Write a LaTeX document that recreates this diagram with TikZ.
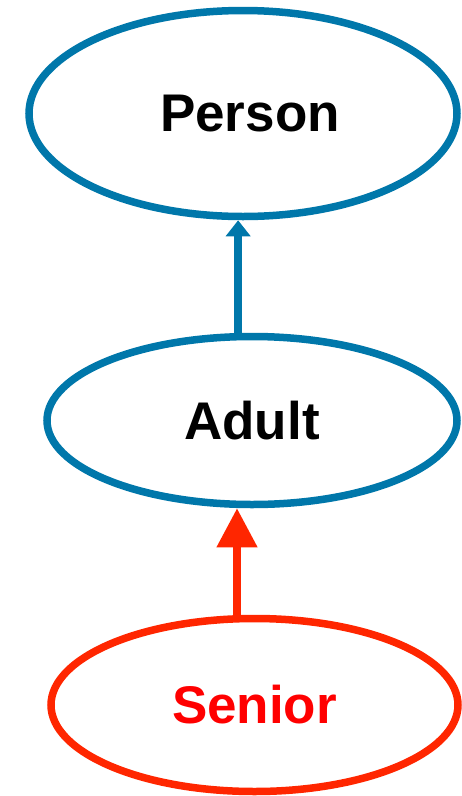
\documentclass[tikz,border=0pt]{standalone}
\usepackage{fontspec}
\setmainfont{Liberation Sans}
\usetikzlibrary{arrows.meta,shapes.geometric}
\definecolor{classblue}{HTML}{0077AA}
\definecolor{subred}{HTML}{FF2600}
\definecolor{subtext}{HTML}{FF0000}
\begin{document}
\begin{tikzpicture}[x=1pt,y=-1pt,
  cls/.style={ellipse, draw=classblue, line width=7.5pt, inner sep=0pt,
    font=\fontsize{53}{60}\selectfont\bfseries},
  sub/.style={cls, draw=subred, text=subtext},
  isa/.style={draw=classblue, line width=7.5pt,
    -{Triangle[length=16pt,width=24pt]}},
  newisa/.style={draw=subred, line width=7.5pt,
    -{Triangle[length=39pt,width=39pt]}}]
\useasboundingbox (0,0) rectangle (461,796);

\node[cls, minimum width=428pt, minimum height=206pt] (person) at (243,113.5)
  {\hspace*{14pt}Person};
\node[cls, minimum width=410pt, minimum height=168pt] (adult) at (252,420.5)
  {Adult};
\node[sub, minimum width=407pt, minimum height=173pt] (senior) at (254.5,705)
  {Senior};

% vertical generalisation arrows, both on the same vertical line
\draw[isa] (adult.99.8) -- (adult.99.8 |- person.south);
\draw[newisa] (senior.101) -- (senior.101 |- adult.south);
\end{tikzpicture}
\end{document}
